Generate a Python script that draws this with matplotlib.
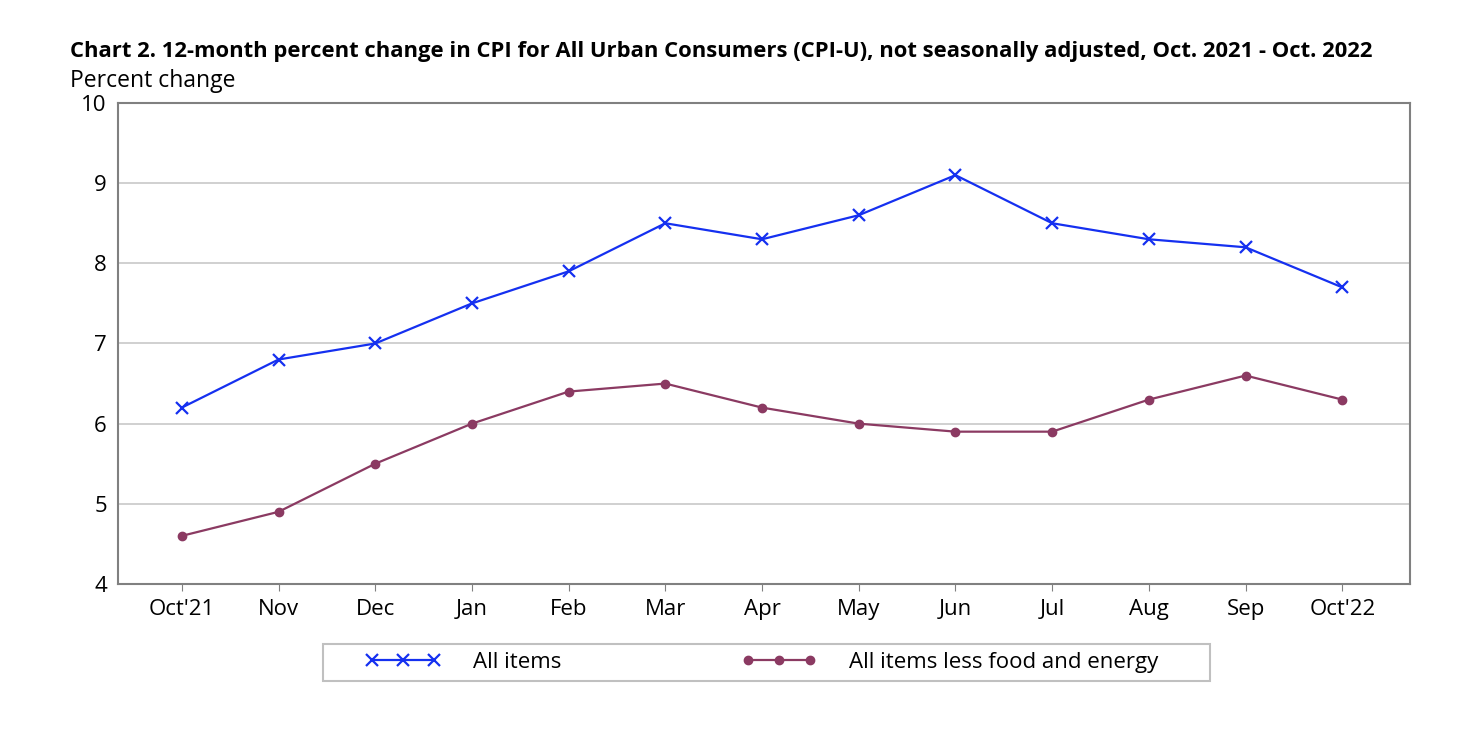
import matplotlib
matplotlib.use("Agg")
import matplotlib.pyplot as plt
from matplotlib.patches import Rectangle

months = ["Oct'21", "Nov", "Dec", "Jan", "Feb", "Mar", "Apr",
          "May", "Jun", "Jul", "Aug", "Sep", "Oct'22"]
all_items = [6.2, 6.8, 7.0, 7.5, 7.9, 8.5, 8.3, 8.6, 9.1, 8.5, 8.3, 8.2, 7.7]
core_items = [4.6, 4.9, 5.5, 6.0, 6.4, 6.5, 6.2, 6.0, 5.9, 5.9, 6.3, 6.6, 6.3]
y_ticks = [4, 5, 6, 7, 8, 9, 10]

plt.rcParams['font.family'] = ['Open Sans', 'DejaVu Sans']

fig = plt.figure(figsize=(14.82, 7.54), dpi=100)
ax = fig.add_axes([0.0796, 0.2255, 0.8718, 0.6379])

x = list(range(len(months)))
ax.plot(x, all_items, color='#1530f0', lw=1.6, marker='x', ms=8, mew=1.6,
        label='All items')
ax.plot(x, core_items, color='#8b3a62', lw=1.6, marker='o', ms=6,
        label='All items less food and energy')

ax.set_xlim(-0.66, 12.7)
ax.set_ylim(4, 10)
ax.set_yticks(y_ticks)
ax.set_xticks(x)
ax.set_xticklabels(months)
ax.grid(axis='y', color='#c8c8c8', lw=1.2)
ax.set_axisbelow(True)
for s in ax.spines.values():
    s.set_color('#808080')
    s.set_linewidth(1.5)
ax.tick_params(axis='y', length=0, pad=8, labelsize=16)
ax.tick_params(axis='x', length=5, color='#808080', pad=6, labelsize=16)

fig.text(0.047, 0.924, "Chart 2. 12-month percent change in CPI for All Urban Consumers (CPI-U), "
         "not seasonally adjusted, Oct. 2021 - Oct. 2022",
         fontsize=15.8, fontweight='bold')
fig.text(0.047, 0.884, "Percent change", fontsize=16.5)

# legend box drawn separately so the left padding matches
fig.patches.append(Rectangle((0.218, 0.0968), 0.5985, 0.0491,
                             transform=fig.transFigure, fill=False,
                             edgecolor='#c0c0c0', lw=1.5))
leg = fig.legend(loc='center left', bbox_to_anchor=(0.2463, 0.121), ncol=2,
                 numpoints=3, fontsize=16, frameon=False, borderpad=0,
                 borderaxespad=0, handlelength=3.4, columnspacing=8.1,
                 handletextpad=1.45)

fig.savefig('out.png', dpi=100)
